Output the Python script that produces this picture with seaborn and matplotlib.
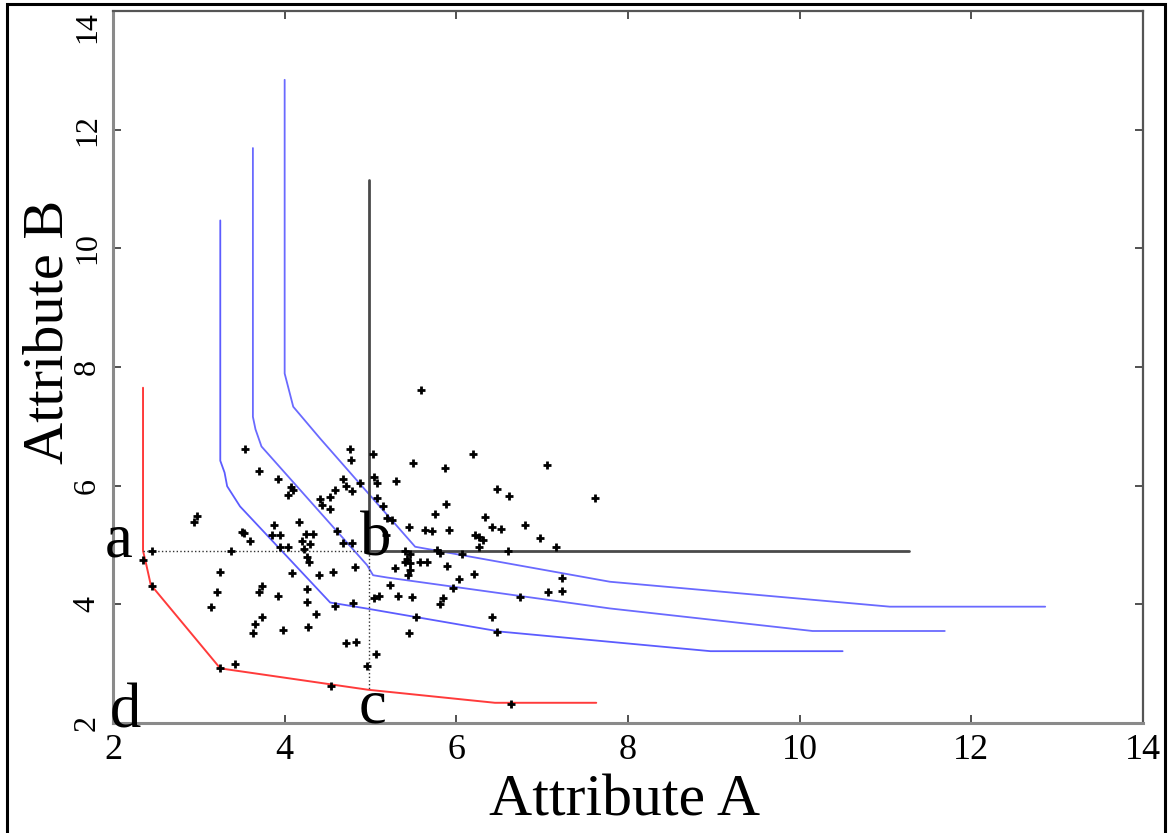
import pandas as pd
import seaborn as sns
import matplotlib.pyplot as plt
from matplotlib.patches import Rectangle

sns.set_style("ticks")
plt.rcParams["font.family"] = ["Liberation Serif", "DejaVu Serif"]
plt.rcParams["text.color"] = "black"
plt.rcParams["axes.labelcolor"] = "black"
plt.rcParams["xtick.labelcolor"] = "black"
plt.rcParams["ytick.labelcolor"] = "black"

# scattered records (Attribute A, Attribute B)
pts_x = [5.59, 3.54, 4.76, 4.77, 5.03, 5.50, 5.87, 6.19, 7.06, 3.70, 3.92, 4.07, 4.04, 4.10,
         4.41, 4.43, 4.53, 4.53, 4.59, 4.68, 4.72, 4.78, 4.88, 5.04, 5.08, 5.30, 5.08, 5.15,
         5.88, 5.75, 6.47, 6.61, 7.62, 6.33, 6.41, 6.52, 6.80, 6.22, 6.26, 6.31, 6.98, 6.26,
         7.16, 2.98, 2.94, 3.50, 3.53, 3.60, 3.87, 3.85, 3.95, 4.17, 4.25, 4.33, 4.20, 4.29,
         4.23, 3.94, 4.04, 3.38, 2.45, 4.61, 4.68, 4.78, 4.26, 4.28, 5.45, 5.63, 5.72, 5.91,
         5.19, 5.25, 5.18, 6.60, 6.07, 5.78, 5.81, 5.40, 5.46, 5.43, 5.40, 5.46, 5.58, 5.66,
         5.89, 6.21, 6.03, 5.28, 5.46, 5.44, 5.23, 5.96, 5.32, 5.48, 5.04, 5.10, 5.84, 5.81,
         6.74, 7.07, 7.23, 7.23, 4.82, 4.56, 4.80, 4.59, 3.25, 4.09, 4.40, 3.74, 3.70, 3.21,
         3.92, 4.26, 4.26, 3.14, 3.74, 3.65, 3.63, 3.98, 4.37, 4.27, 3.42, 3.25, 5.53, 5.45,
         4.71, 4.83, 5.06, 4.96, 4.54, 6.42, 6.47, 6.64, 2.45, 2.35]
pts_y = [7.62, 6.62, 6.61, 6.44, 6.53, 6.39, 6.29, 6.53, 6.35, 6.25, 6.11, 5.97, 5.84, 5.92,
         5.77, 5.67, 5.61, 5.81, 5.92, 6.11, 6.00, 5.91, 6.05, 6.14, 6.04, 6.08, 5.80, 5.65,
         5.69, 5.52, 5.94, 5.82, 5.79, 5.47, 5.30, 5.27, 5.33, 5.17, 5.13, 5.08, 5.11, 4.97,
         4.97, 5.49, 5.38, 5.22, 5.20, 5.06, 5.34, 5.17, 5.17, 5.39, 5.19, 5.19, 5.06, 5.01,
         4.93, 4.97, 4.96, 4.89, 4.90, 5.24, 5.04, 5.04, 4.79, 4.72, 5.31, 5.25, 5.24, 5.25,
         5.45, 5.42, 5.17, 4.90, 4.84, 4.92, 4.87, 4.90, 4.84, 4.76, 4.72, 4.70, 4.72, 4.72,
         4.65, 4.51, 4.43, 4.61, 4.57, 4.50, 4.32, 4.27, 4.14, 4.12, 4.10, 4.14, 4.11, 4.00,
         4.12, 4.20, 4.45, 4.22, 4.63, 4.55, 4.03, 3.97, 4.55, 4.52, 4.49, 4.31, 4.21, 4.20,
         4.14, 4.25, 4.04, 3.96, 3.79, 3.67, 3.51, 3.56, 3.84, 3.62, 3.00, 2.92, 3.79, 3.52,
         3.34, 3.36, 3.16, 2.96, 2.62, 3.79, 3.53, 2.32, 4.31, 4.75]

# red skyline contour
red_x = [2.35, 2.35, 2.38, 2.44, 3.25, 4.97, 6.45, 7.63]
red_y = [7.65, 4.90, 4.72, 4.33, 2.92, 2.56, 2.34, 2.34]

# blue contours
blue1_x = [3.25, 3.25, 3.30, 3.33, 3.48, 4.53, 4.95, 6.51, 8.96, 10.50]
blue1_y = [10.47, 6.42, 6.22, 5.99, 5.65, 4.03, 3.93, 3.54, 3.21, 3.21]
blue2_x = [3.63, 3.63, 3.66, 3.73, 4.96, 5.03, 5.20, 7.79, 10.15, 11.69]
blue2_y = [11.69, 7.16, 6.95, 6.66, 4.66, 4.49, 4.45, 3.93, 3.55, 3.55]
blue3_x = [4.00, 4.00, 4.10, 4.41, 5.52, 7.79, 11.05, 12.86]
blue3_y = [12.84, 7.89, 7.33, 6.80, 4.97, 4.38, 3.96, 3.96]

# query point b and its dominance region
solid_x = [4.98, 4.98, 11.27]
solid_y = [11.15, 4.90, 4.90]
dot_h_x = [2.35, 4.98]
dot_h_y = [4.90, 4.90]
dot_v_x = [4.98, 4.98]
dot_v_y = [4.90, 2.56]

corner_labels = ["a", "b", "c", "d"]
corner_x = [2.06, 5.06, 5.02, 2.15]
corner_y = [4.80, 4.83, 2.00, 1.93]

fig = plt.figure(figsize=(11.72, 8.33), dpi=100)
ax = fig.add_axes([0.0964, 0.1321, 0.8789, 0.8547])

df = pd.DataFrame({"A": pts_x, "B": pts_y})


def line(xs, ys, color, lw, ls="-"):
    sns.lineplot(x=xs, y=ys, sort=False, estimator=None, color=color, lw=lw,
                 linestyle=ls, ax=ax)


line(red_x, red_y, "#ff3b3b", 1.4)
line(blue1_x, blue1_y, "#5c5cff", 1.3)
line(blue2_x, blue2_y, "#6a6aff", 1.3)
line(blue3_x, blue3_y, "#6a6aff", 1.3)
line(solid_x, solid_y, "#4a4a4a", 2.0)
line(dot_h_x, dot_h_y, "#333333", 1.0, ":")
line(dot_v_x, dot_v_y, "#333333", 1.0, ":")

sns.scatterplot(data=df, x="A", y="B", marker="+", s=26, color="black",
                linewidth=2.0, ax=ax, zorder=3)

for lab, x, y in zip(corner_labels, corner_x, corner_y):
    ax.text(x, y, lab, fontsize=45, ha="center", va="baseline", clip_on=False, zorder=5)

ax.set_xlim(2, 14)
ax.set_ylim(2, 14)
ax.set_xticks(range(2, 15, 2))
ax.set_yticks(range(2, 15, 2))
ax.tick_params(direction="in", length=6, width=1.2, top=True, right=True,
               color="#333333", pad=8)
ax.tick_params(axis="x", labelsize=26)
ax.tick_params(axis="y", labelsize=23)
ylabels = ax.get_yticklabels()
for t in ylabels:
    t.set_rotation(90)
    t.set_va("center")
# the top label is pushed down inside the figure, as in the original
ylabels[-1].set_va("top")

for side in ["left", "bottom"]:
    ax.spines[side].set_color("#8a8a8a")
    ax.spines[side].set_linewidth(2.2)
for side in ["top", "right"]:
    ax.spines[side].set_color("#555555")
    ax.spines[side].set_linewidth(1.6)

ax.set_xlabel("Attribute A", fontsize=43)
ax.set_ylabel("Attribute B", fontsize=42)
ax.xaxis.set_label_coords(0.497, -0.072)
ax.yaxis.set_label_coords(-0.037, 0.55)

fig.patches.append(Rectangle((0.006, -0.01), 0.988, 1.005, transform=fig.transFigure,
                             fill=False, edgecolor="black", linewidth=2.2))

fig.savefig("out.png", dpi=100)
